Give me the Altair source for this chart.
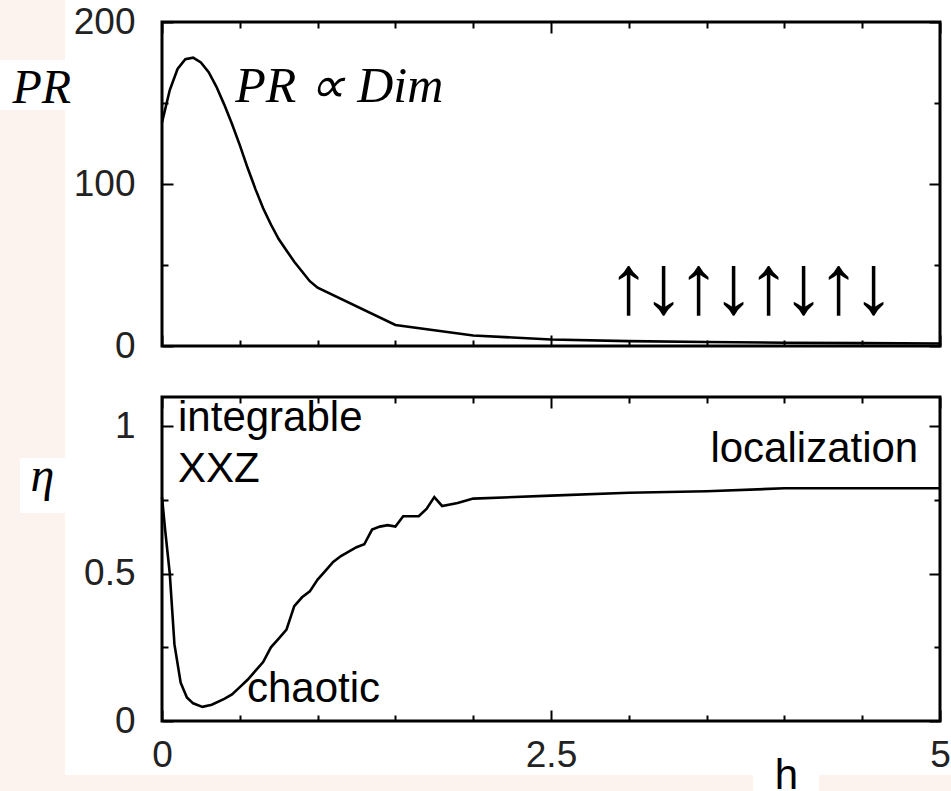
import altair as alt
import pandas as pd

# ---------------- data ----------------
h_pr = [0, 0.05, 0.1, 0.15, 0.2, 0.25, 0.3, 0.35, 0.4, 0.45, 0.5, 0.55, 0.6, 0.65,
        0.7, 0.75, 0.8, 0.85, 0.9, 0.95, 1.0, 1.5, 2.0, 2.5, 3.0, 3.5, 4.0, 4.5, 5.0]
pr = [138, 158, 171, 177, 178, 175, 169, 160, 149, 137, 124, 110, 97, 85,
      75, 66, 59, 52, 46, 40, 36, 13, 6.5, 4, 3, 2.5, 2, 1.8, 1.5]

h_eta = [0, 0.02, 0.05, 0.08, 0.12, 0.16, 0.2, 0.26, 0.32, 0.4, 0.45, 0.5, 0.55, 0.6,
         0.65, 0.7, 0.75, 0.8, 0.85, 0.9, 0.95, 1.0, 1.05, 1.1, 1.15, 1.2, 1.25, 1.3,
         1.35, 1.4, 1.45, 1.5, 1.55, 1.6, 1.65, 1.7, 1.75, 1.8, 1.9, 2.0, 2.5, 3.0,
         3.5, 4.0, 4.5, 5.0]
eta = [0.76, 0.65, 0.50, 0.26, 0.13, 0.08, 0.06, 0.048, 0.055, 0.075, 0.09, 0.115, 0.14, 0.17,
       0.20, 0.25, 0.28, 0.31, 0.39, 0.42, 0.44, 0.48, 0.51, 0.54, 0.56, 0.575, 0.59, 0.60,
       0.65, 0.66, 0.665, 0.66, 0.695, 0.695, 0.695, 0.72, 0.76, 0.73, 0.74, 0.755, 0.765, 0.775,
       0.78, 0.79, 0.79, 0.79]

x_major = [0.0, 2.5, 5.0]
x_minor = [0.5, 1.0, 1.5, 2.0, 3.0, 3.5, 4.0, 4.5]
pr_major = [0.0, 100.0, 200.0]
pr_minor = [50.0, 150.0]
eta_major = [0.0, 0.5, 1.0]
eta_minor = [0.25, 0.75]

arrow_h = [3.0, 3.225, 3.45, 3.675, 3.9, 4.125, 4.35, 4.575]
arrow_glyph = ["↑", "↓", "↑", "↓", "↑", "↓", "↑", "↓"]

# ---------------- helpers ----------------
W, H = 778, 324
PEACH = "#FDF3EE"
LABEL_FONT = "Liberation Sans"
SERIF = "Liberation Serif"
X0, X1 = 0, 5

xsc = alt.Scale(domain=[X0, X1], nice=False, zero=False)
ysc_pr = alt.Scale(domain=[0, 200], nice=False)
ysc_eta = alt.Scale(domain=[0, 1.1], nice=False)

one = pd.DataFrame({"a": [0]})

axis_common = dict(labelFont=LABEL_FONT, labelFontSize=37, labelColor="#222", tickSize=0,
                   domain=False, grid=False, zindex=1, labelFlush=False, labelOverlap=False,
                   labelExpr="datum.value + ''")

ax_y_top = alt.Axis(orient="left", values=pr_major, labelPadding=27, title="PR", titleAngle=0,
                    titleAlign="left", titleBaseline="alphabetic", titleX=-150, titleY=80,
                    titleFont=SERIF, titleFontStyle="italic", titleFontWeight="normal",
                    titleFontSize=48, titleColor="black", **axis_common)
ax_x_bot = alt.Axis(orient="bottom", values=x_major, labelPadding=16, title="h", titleX=624,
                    titleY=67, titleAlign="center", titleBaseline="alphabetic",
                    titleFont=LABEL_FONT, titleFontSize=42, titleFontWeight="normal",
                    titleColor="black", **axis_common)
ax_y_bot = alt.Axis(orient="left", values=eta_major, labelPadding=27, title="η", titleAngle=0,
                    titleAlign="left", titleBaseline="alphabetic", titleX=-132, titleY=93,
                    titleFont=SERIF, titleFontStyle="italic", titleFontWeight="normal",
                    titleFontSize=48, titleColor="black", **axis_common)


def box(x1, x2, y1, y2):
    return alt.Chart(one).mark_rect(color="white").encode(
        x=alt.value(x1), x2=alt.value(x2), y=alt.value(y1), y2=alt.value(y2))


def frame(ysc, yhi):
    return alt.Chart(one).mark_rect(fill="transparent", stroke="black", strokeWidth=3).encode(
        x=alt.XDatum(X0, scale=xsc, axis=None), x2=alt.datum(X1),
        y=alt.YDatum(0, scale=ysc, axis=None), y2=alt.datum(yhi))


def tick_axes(ysc, ymaj, ymin):
    """Inward ticks on all four sides: extra axes pushed onto the opposite edge."""
    common = dict(labels=False, domain=False, grid=False, title=None, tickColor="black",
                  tickWidth=2, zindex=1)
    layers = []
    for xv, yv, length in ((x_major, ymaj, 11), (x_minor, ymin, 6)):
        for xo, yo in (("top", "right"), ("bottom", "left")):
            layers.append(alt.Chart(one).mark_point(opacity=0).encode(
                x=alt.XDatum(X0, scale=xsc, axis=alt.Axis(
                    orient=xo, offset=-H, values=xv, tickSize=length, **common)),
                y=alt.YDatum(0, scale=ysc, axis=alt.Axis(
                    orient=yo, offset=-W, values=yv, tickSize=length, **common))))
    return layers


def txt(s, x, y, ysc, size, font=LABEL_FONT, style="normal", align="left"):
    return alt.Chart(one).mark_text(text=s, font=font, fontSize=size, fontStyle=style,
                                    align=align, baseline="alphabetic", color="black").encode(
        x=alt.XDatum(x, scale=xsc, axis=None), y=alt.YDatum(y, scale=ysc, axis=None))


# ---------------- top panel ----------------
pr_df = pd.DataFrame({"h": h_pr, "PR": pr})
pr_line = alt.Chart(pr_df).mark_line(color="black", strokeWidth=2.6).encode(
    x=alt.X("h:Q", scale=xsc, axis=None),
    y=alt.Y("PR:Q", scale=ysc_pr, axis=ax_y_top))

arrows_df = pd.DataFrame({"h": arrow_h, "g": arrow_glyph})
arrows = alt.Chart(arrows_df).mark_text(font=LABEL_FONT, fontSize=84, baseline="middle",
                                        align="center", color="black").encode(
    x=alt.X("h:Q", scale=xsc, axis=None),
    y=alt.YDatum(36, scale=ysc_pr, axis=None),
    text="g:N")

top = alt.layer(
    box(-97, 789, -22, 753),          # white page area
    box(-162, -97, 38, 88),           # white patch behind "PR"
    box(-142, -97, 436, 491),         # white patch behind eta
    box(591, 657, 753, 775),          # white patch behind "h"
    pr_line,
    *tick_axes(ysc_pr, pr_major, pr_minor),
    txt("PR ∝ Dim", 0.47, 150.6, ysc_pr, 50, font=SERIF, style="italic"),
    arrows,
    frame(ysc_pr, 200),
).resolve_axis(x="independent", y="independent").properties(width=W, height=H)

# ---------------- bottom panel ----------------
eta_df = pd.DataFrame({"h": h_eta, "eta": eta})
eta_line = alt.Chart(eta_df).mark_line(color="black", strokeWidth=2.6).encode(
    x=alt.X("h:Q", scale=xsc, axis=ax_x_bot),
    y=alt.Y("eta:Q", scale=ysc_eta, axis=ax_y_bot))

bottom = alt.layer(
    eta_line,
    *tick_axes(ysc_eta, eta_major, eta_minor),
    txt("integrable", 0.103, 0.983, ysc_eta, 42),
    txt("XXZ", 0.103, 0.813, ysc_eta, 42),
    txt("chaotic", 0.546, 0.065, ysc_eta, 42),
    txt("localization", 4.86, 0.878, ysc_eta, 42, align="right"),
    frame(ysc_eta, 1.1),
).resolve_axis(x="independent", y="independent").properties(width=W, height=H)

chart = alt.vconcat(top, bottom, spacing=51, bounds="flush").properties(
    padding=0
).configure(background=PEACH).configure_view(stroke=None)

chart.save("out.html", embed_options={"renderer": "svg", "actions": False})
